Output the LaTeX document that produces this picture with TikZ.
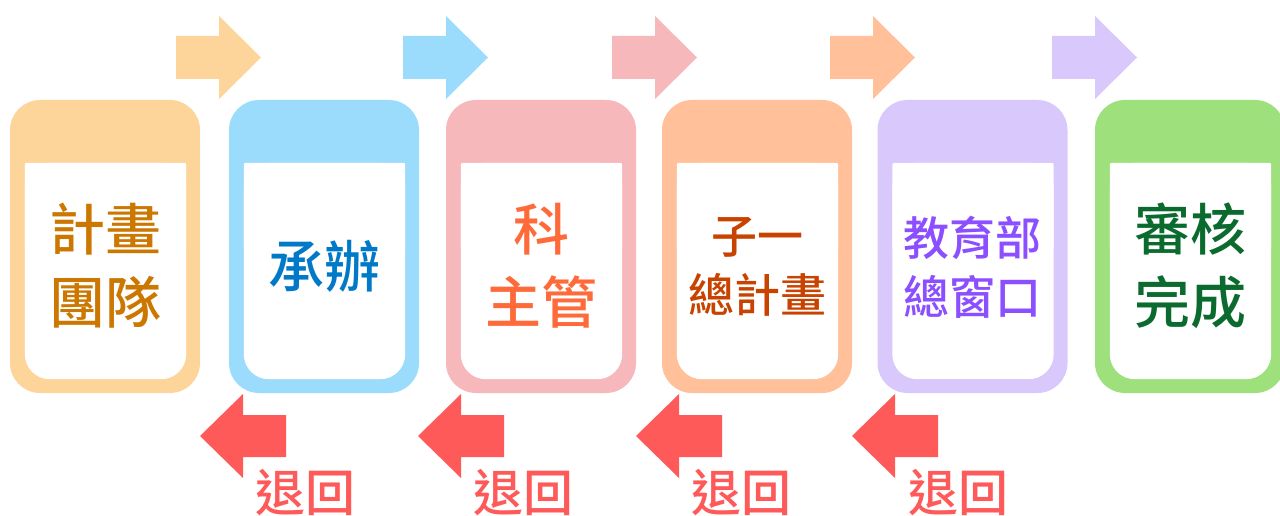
\documentclass[tikz,border=0pt]{standalone}
\usepackage{fontspec}
\newfontfamily\cjk{Noto Sans CJK TC Medium}
\usetikzlibrary{calc}
\definecolor{boxA}{HTML}{FDD59B}
\definecolor{boxB}{HTML}{9BDBFC}
\definecolor{boxC}{HTML}{F6B8BB}
\definecolor{boxD}{HTML}{FFC09A}
\definecolor{boxE}{HTML}{D8C8FC}
\definecolor{boxF}{HTML}{9DE07C}
\definecolor{txtA}{HTML}{CC7700}
\definecolor{txtB}{HTML}{0079C8}
\definecolor{txtC}{HTML}{FF6A3A}
\definecolor{txtD}{HTML}{C84300}
\definecolor{txtE}{HTML}{8B4FFF}
\definecolor{txtF}{HTML}{0B6B2E}
\definecolor{backred}{HTML}{FF5A5A}
\tikzset{
  stagebox/.style={rectangle, rounded corners=30pt, minimum width=190pt,
    minimum height=293pt, inner sep=0pt, draw=none},
  bigtxt/.style={font=\cjk\fontsize{56}{73}\selectfont, align=center, inner sep=0pt},
  midtxt/.style={font=\cjk\fontsize{46}{59}\selectfont, align=center, inner sep=0pt},
  backtxt/.style={font=\cjk\fontsize{50}{60}\selectfont, text=backred, inner sep=0pt},
  rarrow/.pic={\fill[#1] (0,-21.5) -- (43,-21.5) -- (43,-41.5) -- (85,0) -- (43,41.5) -- (43,21.5) -- (0,21.5) -- cycle;},
  larrow/.pic={\fill[backred] (0,0) -- (43,-42) -- (43,-21) -- (86,-21) -- (86,21) -- (43,21) -- (43,42) -- cycle;}
}
\newcommand\stageframe[3]{%
  \node[stagebox, fill=#3] (#1) at (#2,246.5) {};
  \fill[white, rounded corners=25pt] ($(#1.north west)+(15,63)$) rectangle ($(#1.south east)+(-14,-14)$);
  \fill[white, rounded corners=2pt] ($(#1.north west)+(15,63)$) rectangle ($(#1.north east)+(-14,150)$);
}
\begin{document}
\begin{tikzpicture}[x=1pt,y=-1pt]
\useasboundingbox (0,0) rectangle (1280,516);
\clip (0,0) rectangle (1280,516);
\stageframe{s1}{105}{boxA}
\stageframe{s2}{324}{boxB}
\stageframe{s3}{541}{boxC}
\stageframe{s4}{757}{boxD}
\stageframe{s5}{972.5}{boxE}
\stageframe{s6}{1190}{boxF}
\node[bigtxt, text=txtA] (t1) at (105,266) {計畫\\團隊};
\node[bigtxt, text=txtB] (t2) at (324,266) {承辦};
\node[bigtxt, text=txtC] (t3) at (541,266) {科\\主管};
\node[midtxt, text=txtD] (t4) at (757,267) {子一\\總計畫};
\node[midtxt, text=txtE] (t5) at (972.5,267) {教育部\\總窗口};
\node[bigtxt, text=txtF] (t6) at (1190,266) {審核\\完成};
\pic (f1) at (176,57.5) {rarrow=boxA};
\pic (f2) at (403,57.5) {rarrow=boxB};
\pic (f3) at (612,57.5) {rarrow=boxC};
\pic (f4) at (830,57.5) {rarrow=boxD};
\pic (f5) at (1052,57.5) {rarrow=boxE};
\pic (r1) at (200,436) {larrow};
\pic (r2) at (418,436) {larrow};
\pic (r3) at (636,436) {larrow};
\pic (r4) at (852,436) {larrow};
\node[backtxt] (l1) at (305,493) {退回};
\node[backtxt] (l2) at (523,493) {退回};
\node[backtxt] (l3) at (741,493) {退回};
\node[backtxt] (l4) at (958,493) {退回};
\end{tikzpicture}
\end{document}
